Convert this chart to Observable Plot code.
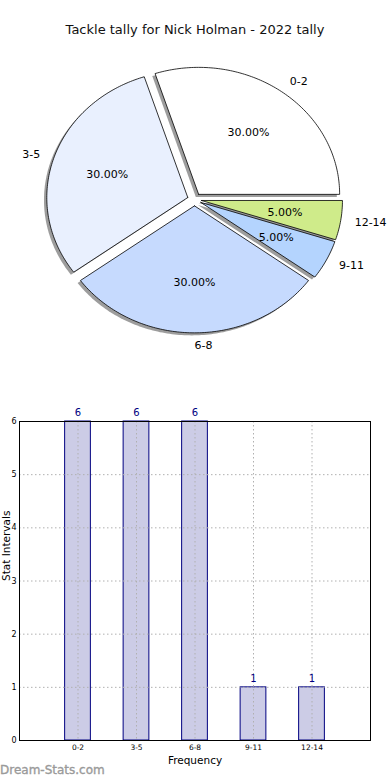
<!DOCTYPE html>
<html>
<head>
<meta charset="utf-8">
<script src="https://cdn.jsdelivr.net/npm/d3@7"></script>
<script src="https://cdn.jsdelivr.net/npm/@observablehq/plot@0.6"></script>
<style>
  html, body { margin: 0; padding: 0; background: #fff; }
  body { width: 390px; height: 780px; position: relative; overflow: hidden; font-family: "DejaVu Sans", sans-serif; }
  #title { position: absolute; left: 0; top: 21px; width: 390px; text-align: center; font-size: 13px; line-height: 18px; color: #111; }
  #pie { position: absolute; left: 0; top: 45px; }
  #bars { position: absolute; left: 0; top: 395px; }
  #wm { position: absolute; left: 0; top: 763px; font-size: 12px; color: #9a9a9a; line-height: 15px; -webkit-text-stroke: 0.35px #9a9a9a; }
</style>
</head>
<body>
<div id="title">Tackle tally for Nick Holman - 2022 tally</div>
<div id="pie"></div>
<div id="bars"></div>
<div id="wm">Dream-Stats.com</div>
<script>
const categories = ["0-2", "3-5", "6-8", "9-11", "12-14"];
const counts = [6, 6, 6, 1, 1];
const sliceColors = ["#ffffff", "#e9f0fe", "#c6dafe", "#b4d4fe", "#cfeb8a"];
const explode = [0.05, 0.05, 0.05, 0.05, 0.05];
const yTicks = [0, 1, 2, 3, 4, 5, 6];

// ---- pie geometry (unit circle, counter-clockwise from 3 o'clock) ----
const total = d3.sum(counts);
const rad = Math.PI / 180;
let start = 0;
const slicePts = [];
const shadowPts = [];
const labels = [];
categories.forEach((cat, i) => {
  const sweep = 360 * counts[i] / total;
  const t1 = start, t2 = start + sweep, mid = (t1 + t2) / 2;
  start = t2;
  const ox = explode[i] * Math.cos(mid * rad), oy = explode[i] * Math.sin(mid * rad);
  const pts = [[ox, oy]];
  const n = Math.max(8, Math.ceil(sweep));
  for (let k = 0; k <= n; k++) {
    const t = (t1 + (t2 - t1) * k / n) * rad;
    pts.push([ox + Math.cos(t), oy + Math.sin(t)]);
  }
  pts.push([ox, oy]);
  pts.forEach(([x, y]) => {
    slicePts.push({key: cat, x, y, color: sliceColors[i]});
    shadowPts.push({key: cat, x: x - 0.02, y: y - 0.02});
  });
  const c = Math.cos(mid * rad), s = Math.sin(mid * rad);
  labels.push({
    cat,
    pct: (100 * counts[i] / total).toFixed(2) + "%",
    lx: ox + 1.1 * c, ly: oy + 1.1 * s,
    px: ox + 0.6 * c, py: oy + 0.6 * s,
    anchor: c > -1e-6 ? "start" : "end"
  });
});

const pie = Plot.plot({
  width: 390,
  height: 320,
  x: {domain: [-1, 1], range: [53, 335], axis: null},
  y: {domain: [-1, 1], range: [281, 27], axis: null},
  color: {type: "identity"},
  style: {fontFamily: "DejaVu Sans, sans-serif", background: "transparent"},
  marks: [
    Plot.line(shadowPts, {x: "x", y: "y", z: "key", fill: "#4d4d4d", fillOpacity: 0.55, stroke: "none", curve: "linear"}),
    Plot.line(slicePts, {x: "x", y: "y", z: "key", fill: "color", stroke: "#000", strokeWidth: 0.8, curve: "linear"}),
    Plot.text(labels.filter(d => d.anchor === "start"), {x: "lx", y: "ly", text: "cat", textAnchor: "start", fontSize: 11, fill: "#000"}),
    Plot.text(labels.filter(d => d.anchor === "end"), {x: "lx", y: "ly", text: "cat", textAnchor: "end", fontSize: 11, fill: "#000"}),
    Plot.text(labels, {x: "px", y: "py", text: "pct", fontSize: 11, fill: "#000"})
  ]
});
document.getElementById("pie").append(pie);

// ---- bar chart ----
const barData = categories.map((cat, i) => ({i, cat, value: counts[i]}));
const bars = Plot.plot({
  width: 390,
  height: 385,
  marginLeft: 19,
  marginRight: 20,
  marginTop: 26,
  marginBottom: 40,
  x: {type: "linear", domain: [-1, 5], axis: null},
  y: {domain: [0, 6], axis: null},
  style: {fontFamily: "DejaVu Sans, sans-serif", background: "transparent"},
  marks: [
    Plot.rect(barData, {x1: d => d.i - 0.22, x2: d => d.i + 0.22, y1: 0, y2: "value", fill: "#ccccE6", stroke: "#000080", strokeWidth: 1}),
    Plot.gridY(yTicks, {stroke: "#b0b0b0", strokeOpacity: 1, strokeDasharray: "1.5,2.5", strokeWidth: 1}),
    Plot.gridX(barData.map(d => d.i), {stroke: "#b0b0b0", strokeOpacity: 1, strokeDasharray: "1.5,2.5", strokeWidth: 1}),
    Plot.frame({stroke: "#000", strokeWidth: 1}),
    Plot.axisY({ticks: yTicks, tickSize: 0, tickPadding: 3, fontSize: 8, label: null, tickFormat: d => String(d)}),
    Plot.axisX({ticks: barData.map(d => d.i), tickSize: 0, tickPadding: 4, fontSize: 7.5, label: null, tickFormat: i => categories[i]}),
    Plot.text(barData, {x: "i", y: "value", text: d => String(d.value), dy: -9, fontSize: 10, fill: "#000080"}),
    Plot.text([0], {frameAnchor: "left", text: () => "Stat Intervals", rotate: -90, dx: -12.5, fontSize: 10.5, fill: "#000"}),
    Plot.text([0], {frameAnchor: "bottom", text: () => "Frequency", dy: 23, fontSize: 10.5, fill: "#000"})
  ]
});
document.getElementById("bars").append(bars);
</script>
</body>
</html>
